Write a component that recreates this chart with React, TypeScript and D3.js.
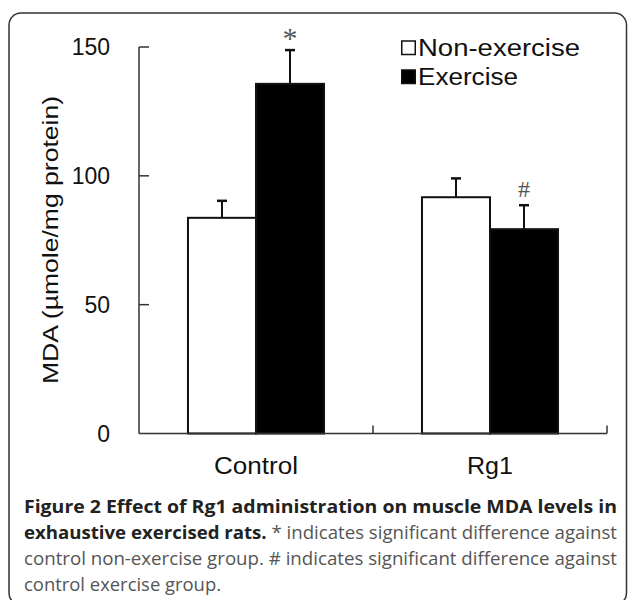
import React from 'react';
import * as d3 from 'd3';

// values
const groups = ['Control', 'Rg1'];
const series = ['Non-exercise', 'Exercise'];
const meanNonEx = [83.7, 91.7];
const meanEx = [135.7, 79.3];
const errNonEx = [6.6, 7.3];
const errEx = [13.1, 9.3];
const marks = [['', '*'], ['', '#']];
const yTicks = [0, 50, 100, 150];

const W = 629;
const H = 600;
const axisFont = '"Liberation Sans", Arial, sans-serif';
const capFont = '"Open Sans", "Noto Sans", sans-serif';

const App = () => {
  const x = d3.scaleBand<string>().domain(groups).range([139, 607]).paddingInner(0).paddingOuter(0);
  const xs = d3.scaleBand<string>().domain(series).range([0, x.bandwidth()]).paddingInner(0).paddingOuter(0.72);
  const y = d3.scaleLinear().domain([0, 150]).range([433.5, 47]);

  const rows = groups.map((g, i) => [
    { g, s: series[0], v: meanNonEx[i], e: errNonEx[i], m: marks[i][0], fill: '#fff' },
    { g, s: series[1], v: meanEx[i], e: errEx[i], m: marks[i][1], fill: '#000' },
  ]).flat();

  const bw = xs.bandwidth();

  return (
    <svg width={W} height={H} style={{ position: 'absolute', left: 0, top: 0 }}>
      <rect x={9} y={13} width={617.5} height={592} rx={12} fill="#fff" stroke="#333" strokeWidth={1.5} />

      {/* y axis */}
      <line x1={139} x2={139} y1={y(150)} y2={y(0)} stroke="#333" strokeWidth={1.5} />
      {yTicks.map((t) => (
        <g key={t}>
          {t > 0 && <line x1={139} x2={149} y1={y(t)} y2={y(t)} stroke="#333" strokeWidth={1.5} />}
          <text x={110} y={y(t)} dy="0.36em" textAnchor="end" fontFamily={axisFont} fontSize={23} fill="#111">
            {t}
          </text>
        </g>
      ))}
      <text
        transform={`translate(58,240) rotate(-90)`}
        textAnchor="middle"
        fontFamily={axisFont}
        fontSize={22.5}
        fill="#111"
        textLength={288}
        lengthAdjust="spacingAndGlyphs"
      >
        MDA (µmole/mg protein)
      </text>

      {/* bars */}
      {rows.map((r) => {
        const bx = (x(r.g) as number) + (xs(r.s) as number);
        const cx = bx + bw / 2;
        return (
          <g key={r.g + r.s}>
            <line x1={cx} x2={cx} y1={y(r.v)} y2={y(r.v + r.e)} stroke="#111" strokeWidth={2} />
            <line x1={cx - 5} x2={cx + 5} y1={y(r.v + r.e)} y2={y(r.v + r.e)} stroke="#111" strokeWidth={2.5} />
            <rect x={bx} y={y(r.v)} width={bw} height={y(0) - y(r.v)} fill={r.fill} stroke="#111" strokeWidth={2} />
            {r.m && (
              <text
                x={cx}
                y={y(r.v + r.e) - (r.m === '*' ? 2 : 8)}
                textAnchor="middle"
                fontFamily='"Liberation Serif", serif'
                fontSize={r.m === '*' ? 30 : 24}
                fill="#555"
              >
                {r.m}
              </text>
            )}
          </g>
        );
      })}

      {/* x axis */}
      <line x1={139} x2={607} y1={y(0)} y2={y(0)} stroke="#333" strokeWidth={1.5} />
      {groups.map((g) => (
        <line key={g} x1={(x(g) as number) + x.bandwidth()} x2={(x(g) as number) + x.bandwidth()} y1={y(0)} y2={y(0) - 8} stroke="#333" strokeWidth={1.5} />
      ))}
      {groups.map((g, i) => (
        <text
          key={g}
          x={(x(g) as number) + x.bandwidth() / 2}
          y={474}
          textAnchor="middle"
          fontFamily={axisFont}
          fontSize={23}
          fill="#111"
          textLength={i === 0 ? 84 : 46}
          lengthAdjust="spacingAndGlyphs"
        >
          {g}
        </text>
      ))}

      {/* legend */}
      {series.map((s, i) => (
        <g key={s} transform={`translate(401,${48 + i * 29})`}>
          <rect x={0.75} y={-7} width={13.5} height={13.5} fill={i === 0 ? '#fff' : '#000'} stroke="#111" strokeWidth={1.5} />
          <text x={17} y={0} dy="0.36em" fontFamily={axisFont} fontSize={23} fill="#111" textLength={i === 0 ? 162 : 100} lengthAdjust="spacingAndGlyphs">
            {s}
          </text>
        </g>
      ))}

      {/* caption */}
      <g fontFamily={capFont} fontSize={18.5}>
        <text x={24} y={513} textLength={593} lengthAdjust="spacingAndGlyphs" fontWeight="bold" fill="#222">
          Figure 2 Effect of Rg1 administration on muscle MDA levels in
        </text>
        <text x={24} y={539} textLength={593} lengthAdjust="spacingAndGlyphs">
          <tspan fontWeight="bold" fill="#222">exhaustive exercised rats.</tspan>
          <tspan fill="#555"> * indicates significant difference against</tspan>
        </text>
        <text x={24} y={565} textLength={593} lengthAdjust="spacingAndGlyphs" fill="#555">
          control non-exercise group. # indicates significant difference against
        </text>
        <text x={24} y={591} fill="#555" textLength={197} lengthAdjust="spacingAndGlyphs">
          control exercise group.
        </text>
      </g>
    </svg>
  );
};

export default App;
